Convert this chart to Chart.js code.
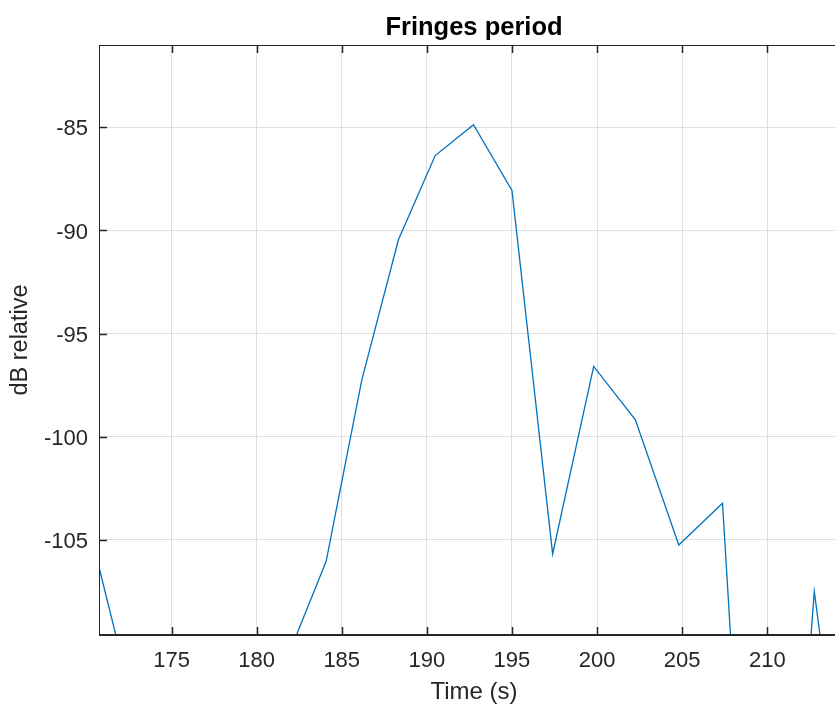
<!DOCTYPE html>
<html>
<head>
<meta charset="utf-8">
<title>Fringes period</title>
<script src="https://cdn.jsdelivr.net/npm/chart.js@4/dist/chart.umd.min.js"></script>
<style>
  html, body { margin: 0; padding: 0; background: #fff; overflow: hidden; }
  #wrap { width: 850px; height: 704px; }
</style>
</head>
<body>
<div id="wrap"><canvas id="fringes" width="850" height="704"></canvas></div>
<script>
'use strict';

// time samples (s) and relative level (dB)
const timeSec = [170.4, 172.3, 174.2, 176.1, 178.1, 180.1, 182.1, 184.08, 186.18, 188.33,
  190.49, 192.74, 195.0, 197.39, 199.8, 202.25, 204.8, 207.37, 209.97, 212.76, 215.5];
const levelDb = [-105.2, -111.5, -114, -116, -113, -112, -110.1, -106.05, -97.24, -90.45,
  -86.37, -84.87, -88.06, -105.68, -96.59, -99.18, -105.25, -103.22, -138.7, -107.5, -124.7];

const xTickValues = [175, 180, 185, 190, 195, 200, 205, 210];
const yTickValues = [-105, -100, -95, -90, -85];

const xMin = 170.74, xMax = 214.8;
const yMin = -109.61, yMax = -81.01;

const axisColor = '#262626';
const gridColor = '#dfdfdf';
const fontFamily = '"Liberation Sans", Arial, Helvetica, sans-serif';

let points = [];
for (let i = 0; i < timeSec.length; i++) {
  points.push({ x: timeSec[i], y: levelDb[i] });
}

// matlab style box with inward tick marks
const boxPlugin = {
  id: 'boxPlugin',
  afterDraw(chart) {
    const ctx = chart.ctx;
    const area = chart.chartArea;
    const xs = chart.scales.x;
    const ys = chart.scales.y;
    const len = 8;
    ctx.save();
    ctx.strokeStyle = axisColor;

    ctx.lineWidth = 1;
    ctx.beginPath();
    ctx.moveTo(area.left, area.top + 0.5);
    ctx.lineTo(area.right, area.top + 0.5);
    ctx.moveTo(area.left + 0.5, area.top);
    ctx.lineTo(area.left + 0.5, area.bottom);
    ctx.stroke();

    ctx.lineWidth = 2;
    ctx.beginPath();
    ctx.moveTo(area.left, area.bottom);
    ctx.lineTo(area.right, area.bottom);
    ctx.stroke();

    ctx.lineWidth = 1.5;
    ctx.beginPath();
    xTickValues.forEach(v => {
      const px = Math.round(xs.getPixelForValue(v)) + 0.5;
      ctx.moveTo(px, area.bottom);
      ctx.lineTo(px, area.bottom - len);
      ctx.moveTo(px, area.top);
      ctx.lineTo(px, area.top + len);
    });
    yTickValues.forEach(v => {
      const py = Math.round(ys.getPixelForValue(v)) + 0.5;
      ctx.moveTo(area.left, py);
      ctx.lineTo(area.left + len, py);
    });
    ctx.stroke();
    ctx.restore();
  }
};

const ctx = document.getElementById('fringes').getContext('2d');

new Chart(ctx, {
  type: 'line',
  data: {
    datasets: [{
      data: points,
      borderColor: '#0072BD',
      borderWidth: 1.3,
      pointRadius: 0,
      tension: 0,
      fill: false,
      clip: 0
    }]
  },
  options: {
    responsive: false,
    animation: false,
    devicePixelRatio: 1,
    layout: { padding: { left: 0, right: 1, top: 0, bottom: 0 } },
    plugins: {
      legend: { display: false },
      tooltip: { enabled: false },
      title: { display: false }
    },
    scales: {
      x: {
        type: 'linear',
        position: 'bottom',
        min: xMin,
        max: xMax,
        afterBuildTicks: scale => {
          scale.ticks = xTickValues.map(v => ({ value: v }));
        },
        afterFit: scale => { scale.height = 69; },
        grid: { color: gridColor, lineWidth: 1, drawTicks: false },
        border: { display: false },
        ticks: {
          color: axisColor,
          padding: 13,
          maxRotation: 0,
          autoSkip: false,
          font: { family: fontFamily, size: 22, lineHeight: 1.2 }
        },
        title: {
          display: true,
          text: 'Time (s)',
          color: axisColor,
          padding: { top: 0, bottom: 0 },
          font: { family: fontFamily, size: 24, lineHeight: 1 }
        }
      },
      top: {
        type: 'linear',
        position: 'top',
        min: xMin,
        max: xMax,
        afterFit: scale => { scale.height = 45; },
        grid: { display: false },
        border: { display: false },
        ticks: { display: false },
        title: {
          display: true,
          text: 'Fringes period',
          color: '#000',
          padding: { top: 15.5, bottom: 0 },
          font: { family: fontFamily, size: 25.5, weight: 'bold', lineHeight: 1 }
        }
      },
      y: {
        type: 'linear',
        position: 'left',
        min: yMin,
        max: yMax,
        afterBuildTicks: scale => {
          scale.ticks = yTickValues.map(v => ({ value: v }));
        },
        afterFit: scale => { scale.width = 99; },
        grid: { color: gridColor, lineWidth: 1, drawTicks: false },
        border: { display: false },
        ticks: {
          color: axisColor,
          padding: 11,
          labelOffset: 2,
          autoSkip: false,
          font: { family: fontFamily, size: 22, lineHeight: 1.2 }
        },
        title: {
          display: true,
          text: 'dB relative',
          color: axisColor,
          padding: { top: 9, bottom: 0 },
          font: { family: fontFamily, size: 23.5, lineHeight: 1 }
        }
      }
    }
  },
  plugins: [boxPlugin]
});
</script>
</body>
</html>
